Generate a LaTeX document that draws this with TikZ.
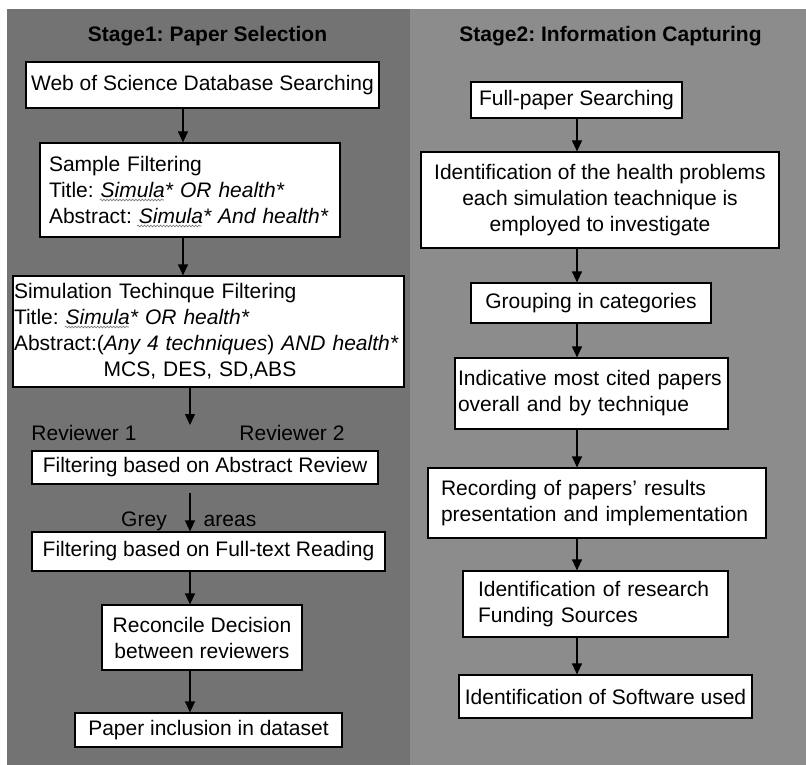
\documentclass[tikz,border=0pt]{standalone}
\usepackage{fontspec}
\setmainfont{Liberation Sans}
\usetikzlibrary{arrows.meta,decorations.pathmorphing,calc}
\definecolor{leftgrey}{HTML}{737373}
\definecolor{rightgrey}{HTML}{8C8C8C}
\frenchspacing
\tikzset{
  box/.style={draw=black, line width=1.2pt, fill=white, inner sep=0pt,
    font=\fontsize{21}{26}\selectfont\frenchspacing},
  cbox/.style={box, align=center},
  lbox/.style={box, align=left},
  lbl/.style={inner sep=0pt, anchor=base, font=\fontsize{21}{26}\selectfont},
  ttl/.style={inner sep=0pt, anchor=base, font=\fontsize{21}{26}\selectfont\bfseries\frenchspacing},
  arr/.style={line width=1.2pt, -{Triangle[length=11pt,width=10pt]}},
  squig/.style={decorate, decoration={snake, amplitude=0.9pt, segment length=3.2pt},
    line width=0.6pt, draw=black!55}
}
\begin{document}
\begin{tikzpicture}[x=1pt,y=-1pt]
\useasboundingbox (0,0) rectangle (806,765);
\fill[leftgrey] (7,9) rectangle (410,765);
\fill[rightgrey] (410,9) rectangle (806,765);

% titles
\node[ttl] (t1) at (207.5,42) {Stage1: Paper Selection};
\node[ttl] (t2) at (610.5,42) {Stage2: Information Capturing};

% left column
\node[cbox, minimum width=353pt, minimum height=46pt] (b1) at (202.5,85)
  {Web of Science Database Searching};
\node[lbox, text width=282pt, inner xsep=9pt, minimum height=94pt] (b2) at (190,190)
  {Sample Filtering\\Title: \textit{Simula* OR health*}\\Abstract: \textit{Simula* And health*}};
\node[lbox, text width=389pt, inner xsep=1pt, minimum height=111pt] (b3) at (208.5,331.5)
  {Simulation Techinque Filtering\\Title: \textit{Simula* OR health*}\\Abstract:(\textit{Any 4 techniques}) \textit{AND health*}\\\makebox[\hsize][c]{MCS, DES, SD,ABS\hspace*{17pt}}};
\node[lbl] (rv1) at (84,440) {Reviewer 1};
\node[lbl] (rv2) at (292,440) {Reviewer 2};
\node[cbox, minimum width=346pt, minimum height=33pt] (b4) at (205,467.5)
  {Filtering based on Abstract Review};
\node[lbl] (grey) at (144,526) {Grey};
\node[lbl] (areas) at (230,526) {areas};
\node[cbox, minimum width=353pt, minimum height=39pt] (b5) at (208.5,551.5)
  {Filtering based on Full-text Reading};
\node[cbox, minimum width=200pt, minimum height=65pt] (b6) at (202,637.5)
  {Reconcile Decision\\between reviewers};
\node[cbox, minimum width=267pt, minimum height=34pt] (b7) at (208.5,730)
  {Paper inclusion in dataset};

% spell-check squiggles under "Simula"
\draw[squig] ($(b2.north west)+(60.3,57.6)$) -- ($(b2.north west)+(124.5,57.6)$);
\draw[squig] ($(b2.north west)+(97.7,83.6)$) -- ($(b2.north west)+(161.9,83.6)$);
\draw[squig] ($(b3.north west)+(52.3,51.6)$) -- ($(b3.north west)+(116.5,51.6)$);

% right column
\node[cbox, minimum width=211pt, minimum height=36pt] (r1) at (576.5,100)
  {Full-paper Searching};
\node[cbox, minimum width=358pt, minimum height=96pt] (r2) at (600,200)
  {Identification of the health problems\\each simulation teachnique is\\employed to investigate};
\node[cbox, minimum width=240pt, minimum height=40pt] (r3) at (591,303)
  {Grouping in categories};
\node[lbox, text width=267pt, inner xsep=3pt, minimum height=71pt] (r4) at (591.5,393.5)
  {Indicative most cited papers\\overall and by technique};
\node[lbox, text width=312pt, inner xsep=13pt, minimum height=70pt] (r5) at (597,503)
  {Recording of papers’ results\\presentation and implementation};
\node[lbox, text width=235pt, inner xsep=15pt, minimum height=66pt] (r6) at (595.5,604)
  {Identification of research\\Funding Sources};
\node[cbox, minimum width=293pt, minimum height=43pt] (r7) at (605.5,696.5)
  {Identification of Software used};

% arrow guide coordinates
\coordinate (xl1) at (183,0);
\coordinate (xl2) at (190,0);
\coordinate (xr) at (577,0);
\coordinate (rvtip) at (190,425);
\coordinate (gastart) at (190,493);

\draw[arr] (b1.south -| xl1) -- (b2.north -| xl1);
\draw[arr] (b2.south -| xl1) -- (b3.north -| xl1);
\draw[arr] (b3.south -| xl2) -- (rvtip);
\draw[arr] (gastart) -- (b5.north -| xl2);
\draw[arr] (b5.south -| xl2) -- (b6.north -| xl2);
\draw[arr] (b6.south -| xl2) -- (b7.north -| xl2);

\draw[arr] (r1.south -| xr) -- (r2.north -| xr);
\draw[arr] (r2.south -| xr) -- (r3.north -| xr);
\draw[arr] (r3.south -| xr) -- (r4.north -| xr);
\draw[arr] (r4.south -| xr) -- (r5.north -| xr);
\draw[arr] (r5.south -| xr) -- (r6.north -| xr);
\draw[arr] (r6.south -| xr) -- (r7.north -| xr);
\end{tikzpicture}
\end{document}
